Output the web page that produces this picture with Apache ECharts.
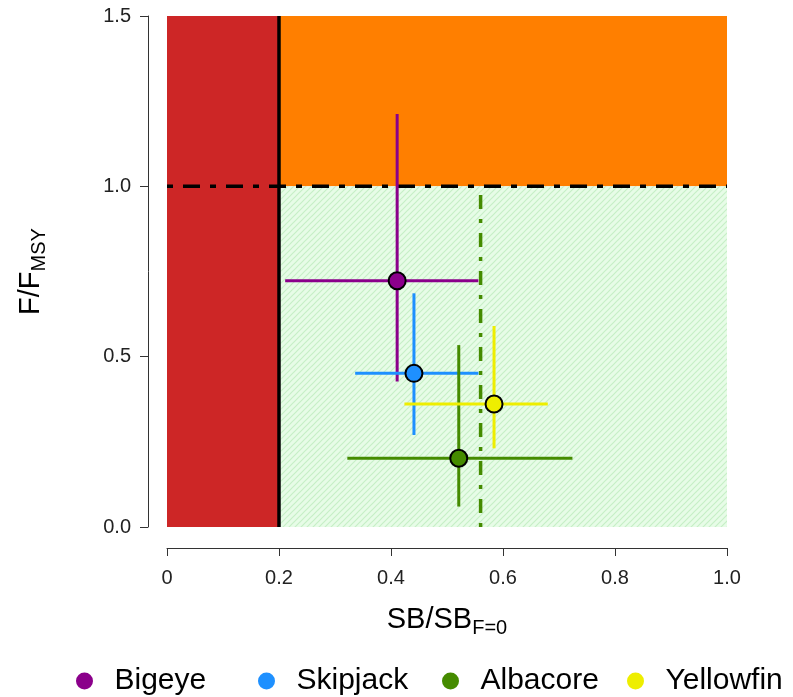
<!DOCTYPE html>
<html><head><meta charset="utf-8">
<script src="https://cdn.jsdelivr.net/npm/echarts@6/dist/echarts.min.js"></script>
<style>html,body{margin:0;padding:0;background:#fff}#c{width:793px;height:697px}</style>
</head><body><div id="c"></div>
<script>
// ---- data ----
const species = ['Bigeye', 'Skipjack', 'Albacore', 'Yellowfin'];
const sbEst  = [0.411, 0.441, 0.521, 0.584];
const sbLow  = [0.211, 0.336, 0.322, 0.424];
const sbHigh = [0.556, 0.556, 0.724, 0.680];
const fEst   = [0.723, 0.451, 0.202, 0.361];
const fLow   = [0.427, 0.270, 0.060, 0.231];
const fHigh  = [1.212, 0.686, 0.534, 0.590];
const xTicks = [0, 0.2, 0.4, 0.6, 0.8, 1.0];
const yTicks = [0, 0.5, 1.0, 1.5];
const sbLimit = 0.2;
const fRef = 1.0;
const sbTarget = 0.56;
const xMax = 1.0, yMax = 1.5;
const zoneX0 = [0, sbLimit, sbLimit];
const zoneX1 = [sbLimit, xMax, xMax];
const zoneY0 = [0, fRef, 0];
const zoneY1 = [yMax, yMax, fRef];

// ---- styles ----
const FONT = "'Liberation Sans', Arial, Helvetica, sans-serif";
const speciesColors = ['#8B008B', '#1E90FF', '#458B00', '#EEEE00'];
const legendLeft = [76, 258, 442, 627];

function hatch() {
  const s = 6;
  const c = document.createElement('canvas');
  c.width = s; c.height = s;
  const g = c.getContext('2d');
  g.fillStyle = '#e7fce7';
  g.fillRect(0, 0, s, s);
  g.strokeStyle = '#c6efc6';
  g.lineWidth = 1.2;
  g.beginPath();
  g.moveTo(0, s); g.lineTo(s, 0);
  g.moveTo(-1, 1); g.lineTo(1, -1);
  g.moveTo(s - 1, s + 1); g.lineTo(s + 1, s - 1);
  g.stroke();
  return c;
}
const zoneFills = ['#CD2626', '#FF7F00', {type: 'pattern', image: hatch(), repeat: 'repeat'}];

const chart = echarts.init(document.getElementById('c'), null, {renderer: 'canvas'});

const zoneData = zoneX0.map((v, i) => [zoneX0[i], zoneX1[i], zoneY0[i], zoneY1[i]]);

const series = [];
series.push({
  type: 'custom', name: 'zones', silent: true, z: 1,
  data: zoneData,
  renderItem: (params, api) => {
    const p0 = api.coord([api.value(0), api.value(2)]);
    const p1 = api.coord([api.value(1), api.value(3)]);
    return {type: 'rect', shape: {x: p0[0], y: p1[1], width: p1[0] - p0[0], height: p0[1] - p1[1]},
            style: {fill: zoneFills[params.dataIndex]}};
  }
});
series.push({
  type: 'line', name: 'fref', z: 3, symbol: 'none', silent: true,
  data: [[0, fRef], [xMax, fRef]],
  lineStyle: {color: '#000', width: 3.5, type: [6, 10, 17, 10], cap: 'butt'}
});
series.push({
  type: 'line', name: 'limit', z: 3, symbol: 'none', silent: true,
  data: [[sbLimit, 0], [sbLimit, yMax]],
  lineStyle: {color: '#000', width: 3.5, type: 'solid'}
});
series.push({
  type: 'line', name: 'target', z: 3, symbol: 'none', silent: true,
  data: [[sbTarget, 0], [sbTarget, fRef]],
  lineStyle: {color: '#458B00', width: 3.5, type: [4, 10, 14, 10], cap: 'butt'}
});
species.forEach((name, i) => {
  const col = speciesColors[i];
  series.push({
    type: 'custom', name: name, z: 5 + i,
    itemStyle: {color: col},
    data: [[sbEst[i], fEst[i], sbLow[i], sbHigh[i], fLow[i], fHigh[i]]],
    renderItem: (params, api) => {
      const c = api.coord([api.value(0), api.value(1)]);
      const l = api.coord([api.value(2), api.value(1)]);
      const r = api.coord([api.value(3), api.value(1)]);
      const b = api.coord([api.value(0), api.value(4)]);
      const t = api.coord([api.value(0), api.value(5)]);
      return {type: 'group', children: [
        {type: 'line', shape: {x1: l[0], y1: l[1], x2: r[0], y2: r[1]}, style: {stroke: col, lineWidth: 3}},
        {type: 'line', shape: {x1: b[0], y1: b[1], x2: t[0], y2: t[1]}, style: {stroke: col, lineWidth: 3}},
        {type: 'circle', shape: {cx: c[0], cy: c[1], r: 8.5}, style: {fill: col, stroke: '#000', lineWidth: 2}}
      ]};
    }
  });
});

const richName = {
  a: {fontSize: 29, fontFamily: FONT, color: '#000', lineHeight: 32, verticalAlign: 'bottom', padding: [0, 0, 4, 0]},
  b: {fontSize: 20, fontFamily: FONT, color: '#000', lineHeight: 22, verticalAlign: 'bottom'}
};

const option = {
  backgroundColor: '#fff',
  animation: false,
  grid: {left: 167, right: 66, top: 16, bottom: 170, containLabel: false},
  xAxis: {
    type: 'value', min: xTicks[0], max: xTicks[xTicks.length - 1], interval: xTicks[1] - xTicks[0],
    offset: 21,
    axisLine: {show: true, onZero: false, lineStyle: {color: '#333', width: 1}},
    axisTick: {show: true, length: 8, lineStyle: {color: '#333', width: 1}},
    axisLabel: {margin: 20, fontSize: 20, fontFamily: FONT, color: '#222',
                formatter: v => (v === 0 ? '0' : v.toFixed(1))},
    splitLine: {show: false},
    name: '{a|SB/SB}{b|F=0}', nameLocation: 'middle', nameGap: 58,
    nameTextStyle: {rich: richName}
  },
  yAxis: {
    type: 'value', min: yTicks[0], max: yTicks[yTicks.length - 1], interval: yTicks[1] - yTicks[0],
    offset: 19,
    axisLine: {show: true, onZero: false, lineStyle: {color: '#333', width: 1}},
    axisTick: {show: true, length: 8, lineStyle: {color: '#333', width: 1}},
    axisLabel: {margin: 17, fontSize: 20, fontFamily: FONT, color: '#222',
                formatter: v => v.toFixed(1)},
    splitLine: {show: false},
    name: '{a|F/F}{b|MSY}', nameLocation: 'middle', nameGap: 99, nameRotate: 90,
    nameTextStyle: {rich: richName}
  },
  legend: species.map((n, i) => ({
    data: [{name: n, itemStyle: {color: speciesColors[i], borderWidth: 0}}],
    left: legendLeft[i], top: 664, orient: 'horizontal',
    icon: 'circle', itemWidth: 50, itemHeight: 17, symbolKeepAspect: true,
    selectedMode: false, padding: 0,
    textStyle: {fontSize: 30, fontFamily: FONT, color: '#000', lineHeight: 34}
  })),
  series: series
};
chart.setOption(option);
</script>
</body></html>
